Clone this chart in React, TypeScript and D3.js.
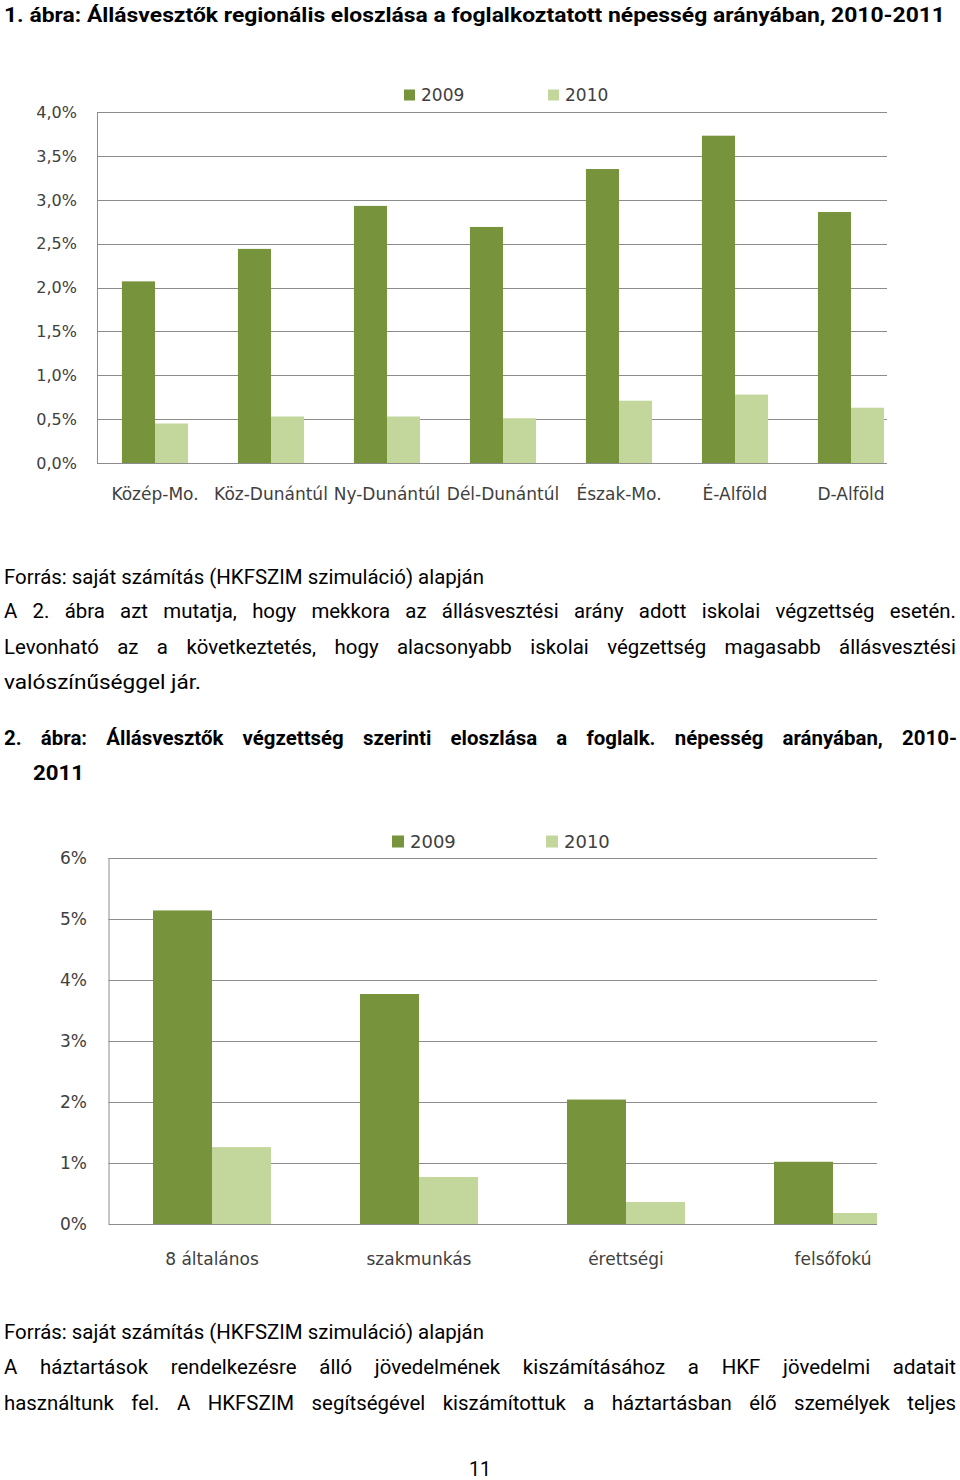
import React, { useLayoutEffect, useRef } from "react";
import * as d3 from "d3";

const seriesNames = ["2009", "2010"];
const seriesColors = ["#77933C", "#C3D69B"];

const regions = ["Közép-Mo.", "Köz-Dunántúl", "Ny-Dunántúl", "Dél-Dunántúl", "Észak-Mo.", "É-Alföld", "D-Alföld"];
const regional2009 = [2.07, 2.44, 2.93, 2.69, 3.35, 3.73, 2.86];
const regional2010 = [0.45, 0.53, 0.53, 0.51, 0.71, 0.78, 0.63];
const regionalTicks = [0, 0.5, 1, 1.5, 2, 2.5, 3, 3.5, 4];

const education = ["8 általános", "szakmunkás", "érettségi", "felsőfokú"];
const edu2009 = [5.14, 3.77, 2.04, 1.02];
const edu2010 = [1.26, 0.77, 0.36, 0.18];
const eduTicks = [0, 1, 2, 3, 4, 5, 6];

const BODY_FONT = "'Liberation Sans Narrow', 'Arial Narrow', 'Roboto', sans-serif";
const CHART_FONT = "'DejaVu Sans', 'Verdana', sans-serif";

type ChartProps = {
  id: string;
  categories: string[];
  a: number[];
  b: number[];
  ticks: number[];
  fmt: (v: number) => string;
  xStart: number;
  step: number;
  plotRight: number;
  yTop: number;
  yBottom: number;
  tickRight: number;
  tickSize: number;
  catSize: number;
  catBaseline: number;
  legendX: number[];
  legendY: number;
  legendSize: number;
  legendSquare: number;
};

function BarChart(p: ChartProps) {
  const n = p.categories.length;
  const x0 = d3.scaleBand<string>().domain(p.categories).range([p.xStart, p.xStart + n * p.step]).padding(0);
  const group = p.step * 0.57;
  const x1 = d3.scaleBand<string>().domain(seriesNames).range([0, group]).padding(0);
  const off = (p.step - group) / 2;
  const yMax = p.ticks[p.ticks.length - 1];
  const y = d3.scaleLinear().domain([0, yMax]).range([p.yBottom, p.yTop]);
  const series = [p.a, p.b];
  return (
    <g>
      <defs>
        <clipPath id={p.id}>
          <rect x={p.xStart} y={p.yTop - 5} width={p.plotRight - p.xStart} height={p.yBottom - p.yTop + 10} />
        </clipPath>
      </defs>
      {p.ticks.map((t) => (
        <g key={t}>
          <line x1={p.xStart} x2={p.plotRight} y1={Math.round(y(t)) + 0.5} y2={Math.round(y(t)) + 0.5} stroke="#8c8c8c" strokeWidth={1} />
          <text x={p.tickRight} y={y(t)} dy="0.36em" textAnchor="end" fontFamily={CHART_FONT} fontSize={p.tickSize} fill="#404040">
            {p.fmt(t)}
          </text>
        </g>
      ))}
      <line x1={p.xStart + 0.5} x2={p.xStart + 0.5} y1={p.yTop} y2={p.yBottom} stroke="#8c8c8c" strokeWidth={1} />
      <g clipPath={`url(#${p.id})`}>
        {p.categories.map((c, i) =>
          seriesNames.map((s, j) => (
            <rect
              key={c + s}
              x={(x0(c) as number) + off + (x1(s) as number)}
              width={x1.bandwidth()}
              y={y(series[j][i])}
              height={p.yBottom - y(series[j][i])}
              fill={seriesColors[j]}
            />
          ))
        )}
      </g>
      {p.categories.map((c) => (
        <text key={c} x={(x0(c) as number) + p.step / 2} y={p.catBaseline} textAnchor="middle" fontFamily={CHART_FONT} fontSize={p.catSize} fill="#404040">
          {c}
        </text>
      ))}
      {seriesNames.map((s, j) => (
        <g key={s}>
          <rect x={p.legendX[j]} y={p.legendY - p.legendSquare - 0.5} width={p.legendSquare} height={p.legendSquare} fill={seriesColors[j]} />
          <text x={p.legendX[j] + p.legendSquare + 6} y={p.legendY} fontFamily={CHART_FONT} fontSize={p.legendSize} fill="#404040">
            {s}
          </text>
        </g>
      ))}
    </g>
  );
}

type Line = { text: string; x: number; y: number; w: number; bold?: boolean; justify?: boolean };

const lines: Line[] = [
  { text: "1. ábra: Állásvesztők regionális eloszlása a foglalkoztatott népesség arányában, 2010-2011", x: 4, y: 22, w: 941, bold: true },
  { text: "Forrás: saját számítás (HKFSZIM szimuláció) alapján", x: 4, y: 584, w: 480 },
  { text: "A 2. ábra azt mutatja, hogy mekkora az állásvesztési arány adott iskolai végzettség esetén.", x: 4, y: 618, w: 952, justify: true },
  { text: "Levonható az a következtetés, hogy alacsonyabb iskolai végzettség magasabb állásvesztési", x: 4, y: 654, w: 952, justify: true },
  { text: "valószínűséggel jár.", x: 4, y: 689, w: 197 },
  { text: "2. ábra: Állásvesztők végzettség szerinti eloszlása a foglalk. népesség arányában, 2010-", x: 4, y: 745, w: 953, bold: true, justify: true },
  { text: "2011", x: 33, y: 780, w: 51, bold: true },
  { text: "Forrás: saját számítás (HKFSZIM szimuláció) alapján", x: 4, y: 1339, w: 480 },
  { text: "A háztartások rendelkezésre álló jövedelmének kiszámításához a HKF jövedelmi adatait", x: 4, y: 1374, w: 952, justify: true },
  { text: "használtunk fel. A HKFSZIM segítségével kiszámítottuk a háztartásban élő személyek teljes", x: 4, y: 1410, w: 952, justify: true },
  { text: "11", x: 469, y: 1476, w: 22 },
];

export default function App() {
  const ref = useRef<SVGGElement>(null);
  useLayoutEffect(() => {
    if (!ref.current) return;
    const texts = d3.select(ref.current).selectAll<SVGTextElement, unknown>("text");
    // scale the body font so a plain reference line has the reference width
    const refEl = texts.nodes()[1];
    const base = 21;
    const scale = 480 / refEl.getComputedTextLength();
    const fs = base * scale;
    texts.attr("font-size", fs);
    texts.each(function () {
      const el = this;
      const target = +(el.getAttribute("data-w") || 0);
      const justify = el.getAttribute("data-j") === "1";
      const natural = el.getComputedTextLength();
      const spaces = (el.textContent || "").split(" ").length - 1;
      if (justify && natural < target && spaces > 0) {
        el.setAttribute("word-spacing", String((target - natural) / spaces));
      } else {
        el.setAttribute("textLength", String(target));
        el.setAttribute("lengthAdjust", "spacingAndGlyphs");
      }
    });
  }, []);
  const f1 = (v: number) => d3.format(".1f")(v).replace(".", ",") + "%";
  const f2 = (v: number) => d3.format("d")(v) + "%";
  return (
    <svg width={960} height={1480} style={{ position: "absolute", left: 0, top: 0, background: "#fff" }}>
      <rect width={960} height={1480} fill="#fff" />
      <g ref={ref}>
        {lines.map((l, i) => (
          <text
            key={i}
            x={l.x}
            y={l.y}
            data-w={l.w}
            data-j={l.justify ? "1" : "0"}
            fontFamily={BODY_FONT}
            fontSize={21}
            fontWeight={l.bold ? "bold" : "normal"}
            fill="#000"
          >
            {l.text}
          </text>
        ))}
      </g>
      <BarChart
        id="clip1"
        categories={regions}
        a={regional2009}
        b={regional2010}
        ticks={regionalTicks}
        fmt={f1}
        xStart={97}
        step={116}
        plotRight={887}
        yTop={112}
        yBottom={463}
        tickRight={77}
        tickSize={16}
        catSize={17}
        catBaseline={500}
        legendX={[404, 548]}
        legendY={101}
        legendSize={17}
        legendSquare={11}
      />
      <BarChart
        id="clip2"
        categories={education}
        a={edu2009}
        b={edu2010}
        ticks={eduTicks}
        fmt={f2}
        xStart={108.5}
        step={207}
        plotRight={877}
        yTop={858}
        yBottom={1224}
        tickRight={87}
        tickSize={17}
        catSize={17}
        catBaseline={1265}
        legendX={[392, 546]}
        legendY={848}
        legendSize={18}
        legendSquare={12}
      />
    </svg>
  );
}
